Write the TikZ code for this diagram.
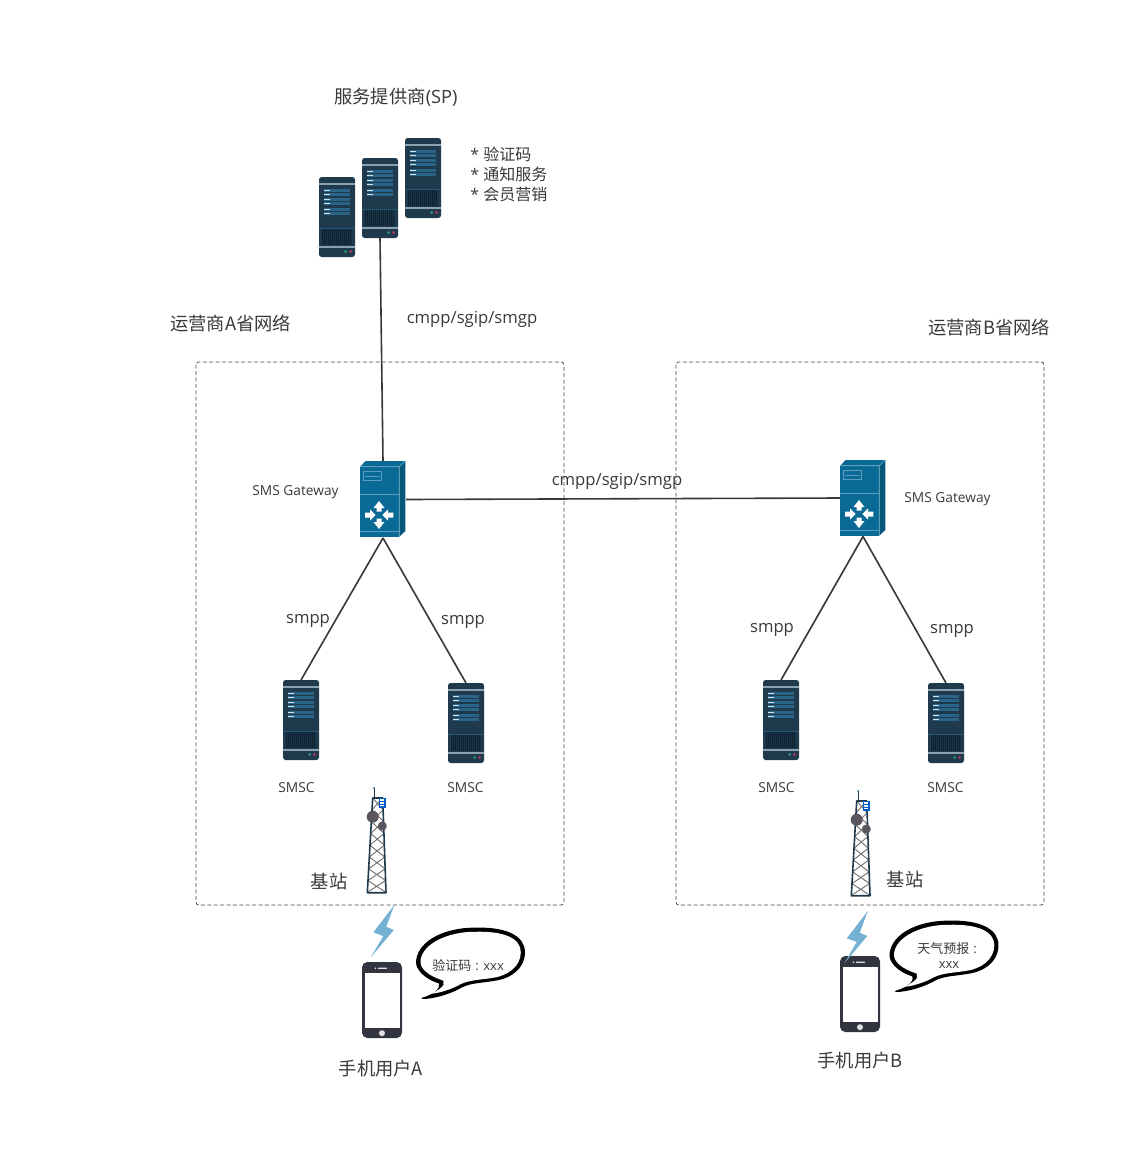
\documentclass[tikz,border=0pt]{standalone}
\usepackage{fontspec}
\setmainfont{Open Sans}
\newfontfamily\cjk{Noto Sans CJK SC}
\definecolor{inktext}{HTML}{3A3A3A}
\definecolor{srvbody}{HTML}{1E3A4C}
\definecolor{srvdark}{HTML}{0F2233}
\definecolor{srvrow}{HTML}{2A6488}
\definecolor{srvstripe}{HTML}{8BA1AE}
\definecolor{ledgreen}{HTML}{2A9A72}
\definecolor{ledred}{HTML}{B8355A}
\definecolor{gwfront}{HTML}{0A6A96}
\definecolor{gwside}{HTML}{07577C}
\definecolor{gwedge}{HTML}{5A9FBF}
\definecolor{phonebody}{HTML}{32343F}
\definecolor{boltblue}{HTML}{75B1D3}
\definecolor{dishgrey}{HTML}{5B5560}
\tikzset{
  x=0.75pt, y=-0.75pt,
  label/.style={text=inktext, inner sep=0pt, font=\fontsize{12.5}{15}\selectfont},
  cjklabel/.style={text=inktext, inner sep=0pt, font=\fontsize{13.7}{16}\selectfont},
  notelabel/.style={text=inktext, inner sep=0pt, font=\fontsize{12}{14}\selectfont},
  smalllabel/.style={text=inktext, inner sep=0pt, font=\fontsize{10.3}{12}\selectfont},
  bubblelabel/.style={text=inktext, inner sep=0pt, font=\fontsize{9.75}{12}\selectfont},
  zone/.style={draw=black!72, dashed, dash pattern=on 3pt off 1.8pt, line width=0.55pt, rounded corners=2pt},
  link/.style={draw=black!78, line width=1.2pt},
  serverbox/.style={rectangle, minimum width=27pt, minimum height=60pt, inner sep=0pt, outer sep=0pt},
  gatebox/.style={rectangle, minimum width=34.5pt, minimum height=57.75pt, inner sep=0pt, outer sep=0pt},
  pics/serverunit/.style={code={
    \fill[srvbody, rounded corners=2pt] (0,0) rectangle (36,80);
    \fill[srvstripe] (0,6) rectangle (36,7.5);
    \foreach \ty in {12,21,31}{
      \fill[srvrow] (5,\ty) rectangle (31,\ty+3);
      \fill[srvrow] (5,\ty+4) rectangle (31,\ty+7);
      \fill[white!80!srvrow] (5,\ty+0.9) rectangle (10.5,\ty+2.1);
      \fill[white!80!srvrow] (5,\ty+4.9) rectangle (10.5,\ty+6.1);
    }
    \fill[srvdark] (3,52) rectangle (33,68);
    \foreach \vx in {4,6,...,32}{
      \fill[srvbody!70!srvdark] (\vx,52) rectangle (\vx+0.8,68);
    }
    \fill[srvrow!70!srvbody] (0,51) rectangle (36,52);
    \fill[srvstripe] (0,69) rectangle (36,71);
    \fill[ledgreen] (26.7,74.5) circle[radius=1.5];
    \fill[ledred] (31.7,74.5) circle[radius=1.5];
  }},
  pics/gatewayunit/.style={code={
    \fill[gwfront] (0.3,5.7) -- (5.5,0) -- (45.3,0) -- (39.3,5.7) -- cycle;
    \fill[gwside] (39.3,5.7) -- (45.3,0) -- (45.3,70) -- (39.3,75.7) -- cycle;
    \fill[gwfront] (0.3,5.7) rectangle (39.3,75.7);
    \draw[gwedge, line width=0.5pt] (0.3,5.7) -- (39.3,5.7) -- (39.3,75.7) (39.3,5.7) -- (45.3,0);
    \draw[gwedge, line width=0.5pt] (3,10.7) rectangle (21.7,19);
    \draw[gwedge, line width=0.4pt] (5,14.8) -- (19.7,14.8);
    \draw[gwedge, line width=0.5pt] (0.3,33) -- (39.3,33) (0.3,70.7) -- (39.3,70.7);
    \fill[white] (19,40) -- (24.5,47) -- (21.5,47) -- (21.5,50.5) -- (16.5,50.5) -- (16.5,47) -- (13.5,47) -- cycle;
    \fill[white] (19,68) -- (24.5,61) -- (21.5,61) -- (21.5,57.5) -- (16.5,57.5) -- (16.5,61) -- (13.5,61) -- cycle;
    \fill[white] (15.7,54) -- (10,48.5) -- (10,51.5) -- (5,51.5) -- (5,56.5) -- (10,56.5) -- (10,59.5) -- cycle;
    \fill[white] (22.3,54) -- (28,48.5) -- (28,51.5) -- (33.3,51.5) -- (33.3,56.5) -- (28,56.5) -- (28,59.5) -- cycle;
  }},
  pics/towerunit/.style={code={
    \draw[srvbody, line width=0.7pt] (7,0) -- (7,10);
    \fill[srvrow] (7,0) circle[radius=1];
    \foreach \i in {0,...,7}{
      \pgfmathsetmacro\ya{10+\i*11.8}
      \pgfmathsetmacro\yb{10+(\i+1)*11.8}
      \pgfmathsetmacro\xla{5.7-\i*0.675}
      \pgfmathsetmacro\xlb{5.7-(\i+1)*0.675}
      \pgfmathsetmacro\xra{15.7+\i*0.41}
      \pgfmathsetmacro\xrb{15.7+(\i+1)*0.41}
      \draw[black!55, line width=0.7pt] (\xla,\ya) -- (\xrb,\yb) (\xra,\ya) -- (\xlb,\yb);
    }
    \draw[srvbody, line width=1.2pt, line join=round] (0.3,104.7) -- (5.7,10) -- (15.7,10) -- (19,104.7) -- cycle;
    \fill[dishgrey] (5.7,28.7) circle[radius=6];
    \fill[dishgrey] (15.3,38) circle[radius=4.5];
    \fill[white] (12.8,10.5) rectangle (18,19);
    \draw[blue!55!cyan!80!black, line width=0.8pt] (12.8,10.5) rectangle (18,19) (12.8,13.3) -- (18,13.3) (12.8,16.1) -- (18,16.1);
  }},
  pics/phoneunit/.style={code={
    \fill[phonebody, rounded corners=4pt] (0,0) rectangle (40,76);
    \fill[white] (2.5,10.7) rectangle (37.5,66.3);
    \fill[white!85!phonebody, rounded corners=0.4pt] (16,5.6) rectangle (25,6.8);
    \fill[white!85!phonebody] (13.5,6.2) circle[radius=0.8];
    \fill[white!85!phonebody] (20,71.2) circle[radius=3];
  }},
  pics/boltunit/.style={code={
    \fill[boltblue] (24,0) -- (3,27.3) -- (13,31) -- (0.5,52.3) -- (23.5,25) -- (16,21.7) -- cycle;
  }},
  % speech bubble: a black outline shape with a white inset, so the stroke swells and tapers
  pics/bubbleunit/.style={code={
    \filldraw[black, line width=1pt, line join=round]
      (0,70) .. controls (8,68) and (20,62) .. (17,54.5)
      .. controls (2,50) and (-7,40) .. (-5.5,32)
      .. controls (-3,12) and (24,0) .. (52,0)
      .. controls (84,-1) and (102,8) .. (102,24)
      .. controls (102,40) and (88,50) .. (71,52)
      .. controls (60,54) and (48,54) .. (39.5,58.5)
      .. controls (28,65) and (12,70) .. (0,70) -- cycle;
    \fill[white]
      (9,65.5) .. controls (15,62) and (24,58) .. (21,52.3)
      .. controls (6,47.5) and (-3,40) .. (-1.8,32)
      .. controls (0.5,15) and (26,3.5) .. (52,3.5)
      .. controls (82,2.5) and (98.5,10) .. (98.5,24)
      .. controls (98.5,37.5) and (86,47.5) .. (70.5,49.5)
      .. controls (59,51.5) and (47,51.5) .. (38,56)
      .. controls (29,61) and (18,64.5) .. (9,65.5) -- cycle;
  }}
}
\begin{document}
\begin{tikzpicture}
\useasboundingbox (0,0) rectangle (1130,1149);
\fill[white] (0,0) rectangle (1130,1149);

% Province network zones
\draw[zone] (196,362) rectangle (564,905);
\draw[zone] (676,362) rectangle (1044,905);

% Service provider servers
\node[serverbox] (sp1) at (337,217) {};
\node[serverbox] (sp2) at (380,198) {};
\node[serverbox] (sp3) at (423,178) {};
\pic at (319,177) {serverunit};
\pic at (362,158) {serverunit};
\pic at (405,138) {serverunit};

% SMS gateways
\node[gatebox] (gwa) at (383,499.5) {};
\node[gatebox] (gwb) at (863,498) {};

% SMSC servers
\node[serverbox] (sca1) at (301,720) {};
\node[serverbox] (sca2) at (466,723) {};
\node[serverbox] (scb1) at (781,720) {};
\node[serverbox] (scb2) at (946,723) {};

% Connections
\draw[link] (sp2.south) -- (gwa.north);
\draw[link] (gwa.east) -- (gwb.west);
\draw[link] (gwa.south) -- (sca1.north);
\draw[link] (gwa.south) -- (sca2.north);
\draw[link] (gwb.south) -- (scb1.north);
\draw[link] (gwb.south) -- (scb2.north);

% Equipment drawn over the connection ends
\pic at (360,461) {gatewayunit};
\pic at (840,460) {gatewayunit};
\pic at (283,680) {serverunit};
\pic at (448,683) {serverunit};
\pic at (763,680) {serverunit};
\pic at (928,683) {serverunit};

% Base stations
\pic at (367,788) {towerunit};
\pic at (851,791) {towerunit};

% Handsets, radio links and speech bubbles
\pic at (362,962) {phoneunit};
\pic at (840,956) {phoneunit};
\pic at (370.3,905) {boltunit};
\pic at (843.8,911) {boltunit};
\pic at (422.3,928.3) {bubbleunit};
\pic at (895.8,921.3) {bubbleunit};

% Labels
\node[cjklabel] (t1) at (396,97) {{\cjk 服务提供商}(SP)};
\node[notelabel, anchor=west] (t2) at (470,154) {* {\cjk 验证码}};
\node[notelabel, anchor=west] (t3) at (470,174) {* {\cjk 通知服务}};
\node[notelabel, anchor=west] (t4) at (470,194) {* {\cjk 会员营销}};
\node[cjklabel, anchor=west] (t5) at (170,323) {{\cjk 运营商A省网络}};
\node[cjklabel, anchor=west] (t6) at (928,327) {{\cjk 运营商B省网络}};
\node[label] (t7) at (472,319) {cmpp/sgip/smgp};
\node[label] (t8) at (617,481) {cmpp/sgip/smgp};
\node[smalllabel] (t9) at (295.5,492) {SMS Gateway};
\node[smalllabel] (t10) at (947.5,499) {SMS Gateway};
\node[label] (t11) at (308,621) {smpp};
\node[label] (t12) at (463,622) {smpp};
\node[label] (t13) at (772,630) {smpp};
\node[label] (t14) at (952,631) {smpp};
\node[smalllabel] (t15) at (296.5,788) {SMSC};
\node[smalllabel] (t16) at (465.5,788) {SMSC};
\node[smalllabel] (t17) at (776.5,788) {SMSC};
\node[smalllabel] (t18) at (945.5,788) {SMSC};
\node[cjklabel] (t19) at (329,882) {\cjk 基站};
\node[cjklabel] (t20) at (905,880) {\cjk 基站};
\node[cjklabel] (t21) at (381,1069) {{\cjk 手机用户A}};
\node[cjklabel] (t22) at (860,1061) {{\cjk 手机用户B}};
\node[bubblelabel, anchor=west] (t23) at (432,965) {{\cjk 验证码}\hspace{3pt}:\hspace{3.5pt}xxx};
\node[bubblelabel, anchor=west] (t24) at (917,949) {{\cjk 天气预报}\hspace{3pt}:};
\node[bubblelabel] (t25) at (949,965) {xxx};
\end{tikzpicture}
\end{document}
